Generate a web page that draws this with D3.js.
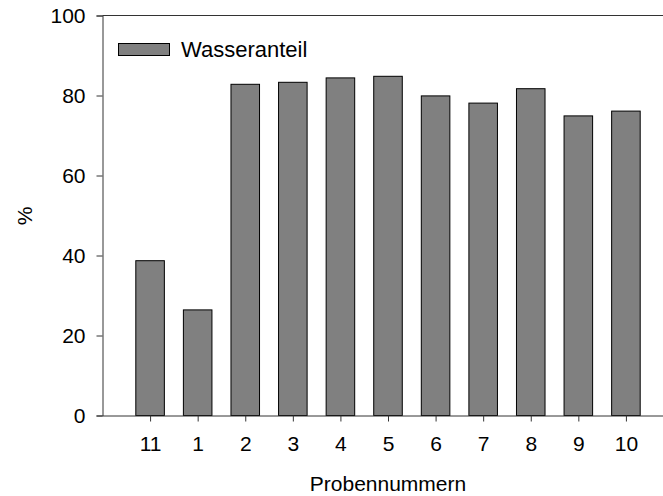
<!DOCTYPE html>
<html>
<head>
<meta charset="utf-8">
<script src="https://cdn.jsdelivr.net/npm/d3@7"></script>
<style>
  html, body { margin: 0; padding: 0; background: #fff; }
  svg { display: block; }
  text { font-family: Arial, "Liberation Sans", sans-serif; fill: #000; }
</style>
</head>
<body>
<script>
const categories = ["11", "1", "2", "3", "4", "5", "6", "7", "8", "9", "10"];
const wasseranteil = [38.7, 26.4, 82.8, 83.3, 84.4, 84.8, 79.9, 78.1, 81.7, 74.9, 76.1];
const yTicks = [0, 20, 40, 60, 80, 100];
const seriesName = "Wasseranteil";
const xTitle = "Probennummern";
const yTitle = "%";

const W = 663, H = 496;
const svg = d3.select("body").append("svg").attr("width", W).attr("height", H);

const x = d3.scaleLinear().domain([0, categories.length + 1]).range([102.5, 673.5]);
const y = d3.scaleLinear().domain([0, 100]).range([415.5, 15.5]);
const step = x(1) - x(0);
const barW = step * 0.6;
const fs = 21;

// bars
svg.append("g").selectAll("rect").data(wasseranteil).join("rect")
  .attr("x", (d, i) => x(i + 1) - barW / 2)
  .attr("y", d => y(d))
  .attr("width", barW)
  .attr("height", d => y(0) - y(d))
  .attr("fill", "#808080")
  .attr("stroke", "#000")
  .attr("stroke-width", 1);

// y axis
const yAxis = d3.axisLeft(y).tickValues(yTicks).tickSize(6).tickPadding(11).tickFormat(d3.format("d"));
const gy = svg.append("g").attr("transform", `translate(${x(0)},0)`).call(yAxis);
gy.selectAll("text").style("font-size", fs + "px").attr("font-family", "Arial, 'Liberation Sans', sans-serif");
gy.select(".domain").attr("stroke", "#333");
gy.selectAll(".tick line").attr("stroke", "#333");

// x axis
const xAxis = d3.axisBottom(x).tickValues(d3.range(1, categories.length + 1))
  .tickFormat(d => categories[d - 1]).tickSize(6).tickSizeOuter(0).tickPadding(15);
const gx = svg.append("g").attr("transform", `translate(0,${y(0)})`).call(xAxis);
gx.selectAll("text").style("font-size", fs + "px").attr("font-family", "Arial, 'Liberation Sans', sans-serif");
gx.select(".domain").attr("stroke", "#333");
gx.selectAll(".tick line").attr("stroke", "#333");

// top frame line
svg.append("line").attr("x1", x(0)).attr("x2", W).attr("y1", y(100)).attr("y2", y(100))
  .attr("stroke", "#333");

// legend
svg.append("rect").attr("x", 118.5).attr("y", 43.5).attr("width", 51).attr("height", 12)
  .attr("fill", "#808080").attr("stroke", "#000");
svg.append("text").attr("x", 181).attr("y", 57).style("font-size", "22px").text(seriesName);

// titles
svg.append("text").attr("x", 388).attr("y", 491).attr("text-anchor", "middle")
  .style("font-size", fs + "px").text(xTitle);
svg.append("text").attr("transform", "translate(32,216) rotate(-90)").attr("text-anchor", "middle")
  .style("font-size", fs + "px").text(yTitle);
</script>
</body>
</html>
